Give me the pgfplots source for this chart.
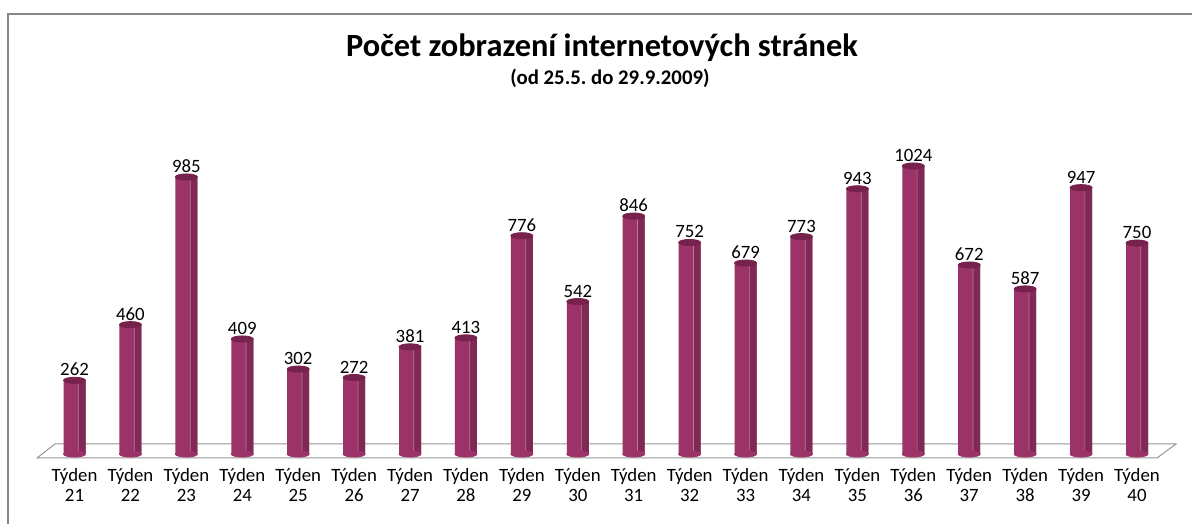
\documentclass[border=0pt]{standalone}
\usepackage{pgfplots}
\pgfplotsset{compat=1.18}
\usepackage{fontspec}
\setmainfont{Carlito}
\frenchspacing
\definecolor{barmain}{RGB}{155,50,104}
\definecolor{bardark}{RGB}{128,40,86}
\definecolor{barline}{RGB}{190,120,155}
\definecolor{bartop}{RGB}{118,34,76}
\definecolor{framegray}{RGB}{134,134,134}
\definecolor{floorgray}{RGB}{150,150,150}
\begin{document}
\begin{tikzpicture}
\useasboundingbox (0,0) rectangle (596pt,262pt);
% chart frame (left and top edges visible)
\draw[framegray, line width=1pt] (4pt,0pt) -- (4pt,255pt) -- (596pt,255pt);
\node[font=\bfseries\fontsize{16.2}{19}\selectfont] at (301pt,238pt) {Počet zobrazení internetových stránek};
\node[font=\bfseries\fontsize{10.4}{12}\selectfont] at (305pt,223pt) {(od 25.5. do 29.9.2009)};
\begin{axis}[
  at={(18.5pt,33pt)}, anchor=south west,
  scale only axis, width=560pt, height=154pt,
  xmin=20.329, xmax=40.358, ymin=-14.2, ymax=1080.9,
  axis line style={draw=none},
  major tick length=0pt,
  ytick=\empty,
  xtick={21,...,40},
  xticklabels={Týden\\21,Týden\\22,Týden\\23,Týden\\24,Týden\\25,Týden\\26,Týden\\27,Týden\\28,Týden\\29,Týden\\30,Týden\\31,Týden\\32,Týden\\33,Týden\\34,Týden\\35,Týden\\36,Týden\\37,Týden\\38,Týden\\39,Týden\\40},
  xticklabel style={align=center, font=\fontsize{9.4}{10}\selectfont, yshift=-1.5pt},
  clip=false,
  /pgf/number format/assume math mode=true,
  /pgf/number format/set thousands separator={},
]
% floor
\draw[floorgray, fill=white, line width=0.5pt] (axis cs:20.329,-14.2) -- (axis cs:40.358,-14.2) -- (axis cs:40.697,35.6) -- (axis cs:20.651,35.6) -- cycle;
% bottom caps
\addplot[only marks, mark=*, mark size=5.5pt, mark options={yscale=0.28, fill=barmain, draw=barmain}] coordinates {
(21,0) (22,0) (23,0) (24,0) (25,0) (26,0) (27,0) (28,0) (29,0) (30,0)
(31,0) (32,0) (33,0) (34,0) (35,0) (36,0) (37,0) (38,0) (39,0) (40,0)};
% main bars
\addplot[ybar, bar width=11pt, draw=none, fill=barmain] coordinates {
(21,262) (22,460) (23,985) (24,409) (25,302) (26,272) (27,381) (28,413) (29,776) (30,542)
(31,846) (32,752) (33,679) (34,773) (35,943) (36,1024) (37,672) (38,587) (39,947) (40,750)};
% darker right side
\addplot[ybar, bar width=3.5pt, bar shift=3.75pt, draw=none, fill=bardark] coordinates {
(21,262) (22,460) (23,985) (24,409) (25,302) (26,272) (27,381) (28,413) (29,776) (30,542)
(31,846) (32,752) (33,679) (34,773) (35,943) (36,1024) (37,672) (38,587) (39,947) (40,750)};
% light separator line
\addplot[ybar, bar width=0.35pt, bar shift=1.9pt, draw=none, fill=barline] coordinates {
(21,262) (22,460) (23,985) (24,409) (25,302) (26,272) (27,381) (28,413) (29,776) (30,542)
(31,846) (32,752) (33,679) (34,773) (35,943) (36,1024) (37,672) (38,587) (39,947) (40,750)};
% top caps with labels
\addplot[only marks, mark=*, mark size=5.5pt, mark options={yscale=0.28, fill=bartop, draw=bartop},
  nodes near coords, every node near coord/.append style={anchor=south, inner sep=1pt, yshift=1.0pt, black, font=\fontsize{9.4}{10}\selectfont}] coordinates {
(21,262) (22,460) (23,985) (24,409) (25,302) (26,272) (27,381) (28,413) (29,776) (30,542)
(31,846) (32,752) (33,679) (34,773) (35,943) (36,1024) (37,672) (38,587) (39,947) (40,750)};
\end{axis}
\end{tikzpicture}
\end{document}
